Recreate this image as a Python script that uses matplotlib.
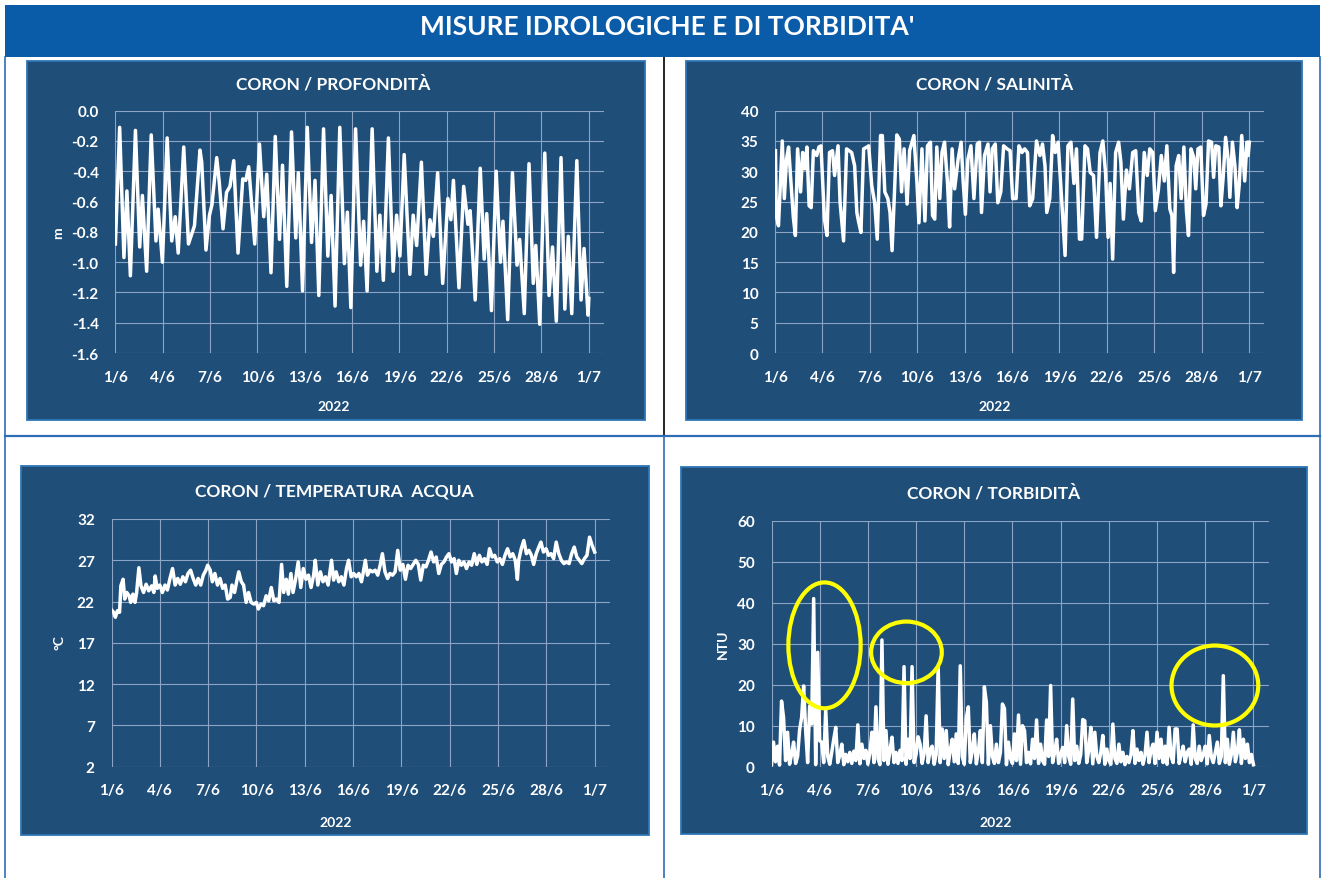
import matplotlib
matplotlib.use("Agg")
import matplotlib.pyplot as plt
from matplotlib.patches import Rectangle, Ellipse
from matplotlib.lines import Line2D

plt.rcParams['font.family'] = ['Lato', 'DejaVu Sans']

W, H = 1325, 879

# ---- data (days since 1/6/2022) ----
day_ticks = [0, 3, 6, 9, 12, 15, 18, 21, 24, 27, 30]
day_labels = ["1/6", "4/6", "7/6", "10/6", "13/6", "16/6", "19/6", "22/6", "25/6", "28/6", "1/7"]

# profondita' (m), read at the turning points of the tide curve
depth_t = [0.00, 0.27, 0.54, 0.73, 0.95, 1.27, 1.54, 1.71, 1.98, 2.27, 2.57, 2.71, 2.98,
           3.28, 3.57, 3.79, 3.98, 4.33, 4.63, 4.82, 5.01, 5.36, 5.47, 5.74, 5.96, 6.12,
           6.42, 6.58, 6.82, 7.04, 7.26, 7.50, 7.77, 8.07, 8.26, 8.45, 8.83, 9.13, 9.40,
           9.59, 9.86, 10.13, 10.40, 10.59, 10.86, 11.16, 11.43, 11.59, 11.86, 12.16,
           12.43, 12.65, 12.89, 13.19, 13.46, 13.67, 13.92, 14.22, 14.51, 14.70, 14.92,
           15.22, 15.54, 15.73, 15.95, 16.27, 16.57, 16.76, 16.98, 17.30, 17.60, 17.82,
           18.03, 18.30, 18.66, 18.87, 19.09, 19.39, 19.69, 19.93, 20.15, 20.42, 20.74,
           21.07, 21.26, 21.42, 21.77, 22.07, 22.34, 22.48, 22.80, 23.12, 23.37, 23.53,
           23.83, 24.13, 24.40, 24.56, 24.86, 25.16, 25.45, 25.62, 25.91, 26.21, 26.48,
           26.64, 26.89, 27.21, 27.48, 27.70, 27.94, 28.24, 28.48, 28.70, 28.92, 29.24,
           29.51, 29.70, 29.95, 30.00]
depth_m = [-0.88, -0.11, -0.97, -0.53, -1.09, -0.13, -0.90, -0.56, -1.06, -0.16, -0.86, -0.65, -1.00,
           -0.18, -0.86, -0.70, -0.94, -0.24, -0.88, -0.82, -0.76, -0.26, -0.34, -0.92, -0.69, -0.62,
           -0.31, -0.47, -0.78, -0.54, -0.50, -0.33, -0.94, -0.45, -0.46, -0.37, -0.88, -0.22, -0.70,
           -0.42, -1.07, -0.17, -0.85, -0.36, -1.16, -0.14, -0.84, -0.41, -1.19, -0.11,
           -0.87, -0.46, -1.22, -0.12, -0.96, -0.56, -1.29, -0.11, -1.01, -0.67, -1.30,
           -0.12, -1.02, -0.73, -1.19, -0.12, -1.06, -0.69, -1.12, -0.18, -1.06, -0.69,
           -0.96, -0.29, -1.08, -0.69, -0.89, -0.34, -1.08, -0.72, -0.83, -0.41, -1.14,
           -0.58, -0.72, -0.46, -1.17, -0.50, -0.75, -0.66, -1.25, -0.38, -0.98, -0.68,
           -1.32, -0.40, -1.00, -0.73, -1.38, -0.41, -1.02, -0.85, -1.34, -0.35, -1.14,
           -0.89, -1.41, -0.28, -1.22, -0.90, -1.39, -0.31, -1.31, -0.83, -1.34, -0.33,
           -1.25, -0.91, -1.35, -1.24]

# salinita'
sal_t = [0.03, 0.08, 0.22, 0.46, 0.59, 0.73, 0.86, 1.02, 1.16, 1.29, 1.43, 1.62, 1.75, 1.89,
         2.02, 2.16, 2.29, 2.43, 2.64, 2.78, 2.91, 3.13, 3.29, 3.45, 3.64, 3.77, 3.99, 4.12,
         4.34, 4.53, 4.85, 5.04, 5.18, 5.28, 5.44, 5.61, 5.82, 5.93, 6.12, 6.31, 6.47, 6.68,
         6.79, 6.95, 7.14, 7.28, 7.41, 7.71, 7.87, 8.01, 8.17, 8.36, 8.52, 8.79, 8.98, 9.11,
         9.30, 9.49, 9.65, 9.84, 9.97, 10.11, 10.24, 10.43, 10.57, 10.73, 10.92, 11.05, 11.21,
         11.37, 11.59, 11.78, 11.91, 12.05, 12.21, 12.40, 12.59, 12.80, 12.94, 13.07, 13.26,
         13.48, 13.61, 13.75, 13.94, 14.10, 14.29, 14.47, 14.69, 14.88, 15.04, 15.26, 15.44,
         15.63, 15.80, 15.98, 16.12, 16.31, 16.55, 16.77, 16.93, 17.09, 17.20, 17.39, 17.57,
         17.74, 17.92, 18.19, 18.36, 18.54, 18.73, 18.92, 19.08, 19.27, 19.41, 19.62, 19.78,
         19.95, 20.16, 20.35, 20.57, 20.75, 20.92, 21.08, 21.21, 21.37, 21.56, 21.75, 21.89,
         22.05, 22.24, 22.43, 22.64, 22.83, 23.02, 23.18, 23.37, 23.56, 23.72, 23.91, 24.07,
         24.26, 24.45, 24.64, 24.80, 24.99, 25.12, 25.23, 25.39, 25.55, 25.71, 25.88, 26.04,
         26.17, 26.33, 26.50, 26.63, 26.77, 26.95, 27.12, 27.28, 27.44, 27.63, 27.76, 27.90,
         28.09, 28.22, 28.36, 28.52, 28.68, 28.79, 28.95, 29.11, 29.25, 29.38, 29.54, 29.73,
         29.87, 29.95, 30.02]
sal_v = [33.4, 22.7, 21.0, 35.0, 25.5, 32.0, 34.0, 27.7, 22.4, 19.4, 33.7, 26.6, 33.1, 30.4,
         34.0, 24.3, 24.0, 33.4, 32.6, 34.0, 34.2, 22.1, 19.4, 33.1, 33.4, 29.3, 34.2, 24.8,
         18.5, 33.7, 33.1, 30.9, 23.2, 21.8, 19.9, 33.7, 34.0, 34.2, 27.7, 24.8, 18.8, 35.9,
         35.9, 26.6, 25.5, 23.2, 16.9, 36.0, 35.3, 26.6, 33.7, 24.6, 33.4, 35.9, 28.3, 21.5,
         33.7, 21.8, 34.2, 34.8, 22.7, 22.1, 34.0, 25.5, 33.1, 34.8, 28.0, 20.8, 33.7,
         27.1, 32.0, 34.8, 28.3, 22.9, 32.0, 34.2, 25.5, 34.5, 34.8, 23.2, 32.6,
         34.5, 26.6, 33.7, 34.5, 24.8, 26.6, 34.2, 33.7, 33.4, 25.5, 25.5, 34.2,
         33.1, 33.7, 33.1, 24.3, 25.5, 35.0, 32.6, 34.5, 30.9, 23.2, 25.5, 35.9,
         33.1, 34.8, 23.2, 16.1, 34.2, 34.8, 28.0, 33.7, 18.8, 18.8, 34.2, 33.7,
         29.8, 29.3, 19.1, 33.1, 35.0, 29.8, 19.1, 28.0, 15.5, 33.1, 34.8, 31.5,
         22.1, 30.2, 27.1, 33.1, 33.4, 23.2, 21.8, 33.1, 29.3, 33.7, 33.1, 23.5,
         26.8, 32.6, 28.4, 34.2, 23.8, 22.7, 13.3, 30.9, 32.6, 25.5, 34.0, 23.5,
         19.4, 33.7, 32.3, 27.1, 33.7, 34.0, 22.7, 24.6, 35.0, 34.8, 29.0, 34.2,
         34.0, 24.3, 28.8, 35.6, 32.0, 25.7, 34.8, 30.9, 24.0, 27.7, 35.9, 28.4,
         34.8, 32.6, 34.8]

# temperatura acqua (degC)
temp_t = [0.00, 0.13, 0.24, 0.37, 0.50, 0.58, 0.72, 0.82, 0.95, 1.09, 1.19, 1.33, 1.46, 1.56,
          1.70, 1.83, 1.99, 2.15, 2.31, 2.49, 2.63, 2.71, 2.84, 3.00, 3.16, 3.32, 3.47, 3.63,
          3.79, 3.95, 4.11, 4.27, 4.43, 4.59, 4.75, 4.91, 5.07, 5.23, 5.38, 5.54, 5.70, 5.86,
          5.97, 6.13, 6.26, 6.42, 6.58, 6.74, 6.90, 7.06, 7.21, 7.37, 7.48, 7.64, 7.77, 7.90,
          8.06, 8.20, 8.36, 8.51, 8.67, 8.83, 8.99, 9.12, 9.28, 9.44, 9.60, 9.76, 9.92, 10.08,
          10.24, 10.40, 10.56, 10.69, 10.85, 10.98, 11.14, 11.27, 11.43, 11.59, 11.75, 11.91,
          12.07, 12.23, 12.39, 12.55, 12.65, 12.81, 12.97, 13.13, 13.29, 13.45, 13.66, 13.79,
          13.95, 14.11, 14.27, 14.43, 14.59, 14.72, 14.88, 15.04, 15.20, 15.36, 15.52, 15.62,
          15.76, 15.89, 16.05, 16.21, 16.37, 16.53, 16.68, 16.82, 16.98, 17.14, 17.29, 17.45,
          17.61, 17.77, 17.93, 18.09, 18.25, 18.41, 18.57, 18.73, 18.89, 19.05, 19.20, 19.36,
          19.52, 19.68, 19.84, 20.00, 20.16, 20.32, 20.48, 20.64, 20.80, 20.95, 21.11, 21.27,
          21.41, 21.56, 21.72, 21.88, 22.04, 22.20, 22.36, 22.52, 22.68, 22.84, 23.00, 23.16,
          23.32, 23.47, 23.63, 23.79, 23.95, 24.11, 24.27, 24.43, 24.59, 24.75, 24.91, 25.07,
          25.20, 25.28, 25.44, 25.60, 25.76, 25.92, 26.07, 26.21, 26.37, 26.53, 26.66, 26.82,
          26.98, 27.14, 27.29, 27.45, 27.61, 27.77, 27.93, 28.09, 28.25, 28.41, 28.57, 28.73,
          28.89, 29.05, 29.20, 29.36, 29.52, 29.68, 29.84, 30.00]
temp_c = [21.0, 20.7, 20.1, 20.9, 20.7, 23.9, 24.7, 22.3, 23.1, 22.7, 21.9, 22.9, 21.9, 23.1,
          26.1, 23.9, 23.1, 24.1, 23.3, 23.9, 23.1, 25.1, 23.6, 24.0, 23.1, 24.0, 23.4, 24.8,
          26.0, 24.0, 24.8, 24.1, 25.0, 24.4, 25.4, 25.8, 24.8, 24.0, 24.8, 24.0, 25.2, 25.8,
          26.4, 25.8, 24.4, 25.4, 24.0, 24.8, 23.6, 24.0, 22.3, 22.5, 24.0, 23.1, 24.4, 25.6,
          24.4, 24.0, 21.9, 23.1, 21.9, 21.7, 21.9, 21.1, 21.7, 21.5, 22.7, 22.1, 23.7, 22.1,
          22.3, 21.9, 26.5, 23.1, 24.7, 22.9, 25.4, 23.1, 24.7, 26.8, 23.7, 26.0,
          24.7, 25.2, 23.7, 25.2, 27.0, 24.0, 25.6, 24.4, 25.0, 24.0, 27.0, 24.6,
          25.6, 24.4, 25.0, 24.0, 26.0, 27.0, 25.0, 25.4, 25.0, 25.4, 24.4, 25.4,
          27.0, 25.2, 25.8, 25.6, 25.8, 25.2, 26.4, 27.8, 25.6, 24.8, 25.4, 25.2,
          25.6, 28.2, 25.8, 26.5, 24.7, 26.4, 26.0, 26.5, 27.0, 26.5, 24.6, 26.4,
          26.2, 27.0, 28.0, 26.8, 27.4, 25.4, 26.5, 26.8, 27.4, 27.8, 26.8, 27.2,
          25.4, 27.0, 26.4, 26.8, 26.0, 26.8, 26.4, 27.8, 26.5, 27.6, 26.8, 27.2,
          26.5, 28.4, 27.4, 27.6, 26.8, 27.2, 26.5, 27.6, 28.4, 27.4, 27.8, 27.0,
          24.7, 27.0, 28.4, 29.4, 27.8, 28.2, 27.6, 26.5, 27.8, 28.6, 29.2, 28.0,
          28.4, 27.6, 27.8, 27.2, 29.2, 27.8, 27.0, 26.6, 26.8, 26.6, 27.8, 28.6,
          27.4, 27.0, 26.6, 27.2, 27.6, 29.8, 28.8, 28.0]

# torbidita' (NTU), one reading every 3 hours, one row per day
turb_ntu = [
    0.5, 6.0, 1.2, 5.0, 0.4, 16.0, 12.0, 1.5,
    8.4, 0.6, 3.0, 6.0, 0.8, 2.5, 9.0, 12.0,
    19.7, 9.0, 1.0, 14.8, 10.4, 41.0, 0.5, 27.9,
    6.3, 6.0, 1.0, 14.0, 2.5, 0.6, 3.5, 6.7,
    9.6, 1.0, 2.8, 5.5, 0.5, 3.0, 1.2, 3.5,
    0.8, 3.8, 1.5, 10.2, 0.7, 5.5, 2.0, 4.0,
    0.6, 3.5, 8.4, 1.0, 14.6, 2.0, 0.5, 30.9,
    1.5, 8.8, 0.6, 4.0, 7.2, 1.0, 3.5, 0.8,
    4.0, 1.5, 24.4, 0.6, 6.7, 2.0, 24.4, 1.0,
    3.0, 7.3, 5.5, 0.8, 3.2, 12.4, 1.0, 4.0,
    5.0, 0.6, 3.0, 24.6, 1.0, 9.2, 2.0, 8.8,
    0.5, 4.0, 6.7, 1.2, 8.0, 0.8, 24.6, 2.5,
    0.6, 11.8, 14.6, 1.0, 4.0, 8.0, 0.7, 3.5,
    8.8, 1.0, 19.5, 15.7, 0.6, 10.0, 2.5, 0.8,
    5.5, 1.0, 3.5, 15.3, 14.2, 0.5, 6.0, 2.0,
    0.8, 8.0, 1.5, 12.6, 0.6, 10.0, 8.8, 1.0,
    3.5, 0.7, 6.7, 2.0, 11.4, 0.8, 5.5, 1.5,
    0.6, 11.4, 2.5, 19.8, 1.0, 3.5, 6.7, 0.8,
    3.0, 4.7, 1.0, 10.0, 2.5, 0.6, 16.5, 1.5,
    5.0, 0.8, 3.0, 11.5, 11.2, 1.0, 4.0, 9.6,
    0.7, 8.4, 2.5, 1.0, 3.5, 7.6, 0.6, 4.3,
    1.5, 0.6, 10.4, 2.0, 0.8, 5.5, 1.2, 3.5,
    0.5, 2.5, 1.0, 3.0, 8.8, 0.8, 4.3, 1.5,
    3.5, 0.6, 2.8, 8.4, 1.0, 4.0, 5.5, 0.8,
    8.4, 2.0, 6.7, 1.0, 5.0, 0.6, 9.6, 2.5,
    1.0, 9.2, 9.2, 0.8, 3.0, 5.0, 1.2, 3.5,
    4.3, 0.6, 10.2, 2.0, 0.8, 5.0, 1.5, 3.0,
    5.0, 0.7, 7.6, 2.5, 1.0, 3.5, 6.0, 0.8,
    2.5, 22.2, 1.0, 6.7, 0.6, 3.0, 8.4, 1.2,
    3.5, 9.0, 0.8, 6.7, 2.0, 5.5, 1.0, 3.0,
    0.5,
]
turb_t = [i / 8 for i in range(len(turb_ntu))]

# highlighted events on the turbidity chart: (day, NTU, width days, height NTU)
highlights = [(3.3, 29.6, 4.5, 30.7), (8.4, 27.9, 4.4, 15.0), (27.6, 19.8, 5.4, 19.5)]

# ---- figure ----
PANEL = '#1F4E79'
EDGE = '#2E75B6'
GRID = '#8DA5C4'

fig = plt.figure(figsize=(W / 100, H / 100), dpi=100)
fig.patch.set_facecolor('white')


def fx(px):
    return px / W


def fy(py):
    return 1 - py / H


# banner
fig.patches.append(Rectangle((fx(5), fy(58)), fx(1315), 52 / H, transform=fig.transFigure,
                             facecolor='#0B5CA8', edgecolor='none', zorder=-2))
fig.text(fx(667), fy(27), "MISURE IDROLOGICHE E DI TORBIDITA'", color='white',
         fontsize=19, fontweight='bold', ha='center', va='center')

# frame lines
blue_line = '#2F6DB5'
for x0, y0, x1, y1, c, lw in [(5, 58, 5, 879, blue_line, 1.2),
                              (1320, 58, 1320, 879, blue_line, 1.2),
                              (664, 58, 664, 437, 'black', 1.2),
                              (664, 437, 664, 879, blue_line, 1.2),
                              (5, 437, 1320, 437, blue_line, 1.6)]:
    fig.add_artist(Line2D([fx(x0), fx(x1)], [fy(y0), fy(y1)], color=c, lw=lw,
                          transform=fig.transFigure, zorder=-2))

panels = [
    dict(box=(27, 62, 645, 421), ax=(115.4, 111.7, 603.8, 354), title="CORON / PROFONDITÀ",
         tc=(333, 84), yl="m", ylc=(58, 233), xl=(334, 407),
         ylim=(-1.6, 0.0), yticks=[-1.6, -1.4, -1.2, -1.0, -0.8, -0.6, -0.4, -0.2, 0.0], fmt='{:.1f}',
         x=depth_t, y=depth_m),
    dict(box=(686, 62, 1302, 421), ax=(775, 111.7, 1264, 354), title="CORON / SALINITÀ",
         tc=(995, 84), yl=None, ylc=None, xl=(995, 407),
         ylim=(0, 40), yticks=[0, 5, 10, 15, 20, 25, 30, 35, 40], fmt='{:d}',
         x=sal_t, y=sal_v),
    dict(box=(21, 467, 649, 836), ax=(111.5, 520, 610, 767.7), title="CORON / TEMPERATURA  ACQUA",
         tc=(334, 492), yl="°C", ylc=(60, 643), xl=(336, 823),
         ylim=(2, 32), yticks=[2, 7, 12, 17, 22, 27, 32], fmt='{:d}',
         x=temp_t, y=temp_c),
    dict(box=(681, 468, 1307, 835), ax=(771.5, 521.7, 1268.7, 767.7), title="CORON / TORBIDITÀ",
         tc=(994, 493), yl="NTU", ylc=(723, 644), xl=(996, 823),
         ylim=(0, 60), yticks=[0, 10, 20, 30, 40, 50, 60], fmt='{:d}',
         x=turb_t, y=turb_ntu),
]

axes = []
for p in panels:
    bx0, by0, bx1, by1 = p['box']
    fig.patches.append(Rectangle((fx(bx0), fy(by1)), (bx1 - bx0) / W, (by1 - by0) / H,
                                 transform=fig.transFigure, facecolor=PANEL, edgecolor=EDGE,
                                 lw=1.3, zorder=-1))
    ax0, ay0, ax1, ay1 = p['ax']
    ax = fig.add_axes([fx(ax0), fy(ay1), (ax1 - ax0) / W, (ay1 - ay0) / H])
    ax.set_facecolor(PANEL)
    ax.plot(p['x'], p['y'], color='white', lw=2.5, solid_joinstyle='round', zorder=3)
    ax.set_xlim(0, 30.95)
    ax.set_ylim(*p['ylim'])
    ax.set_xticks(day_ticks)
    ax.set_xticklabels(day_labels)
    ax.set_yticks(p['yticks'])
    ax.set_yticklabels([p['fmt'].format(v) for v in p['yticks']])
    ax.grid(True, color=GRID, lw=0.8)
    ax.set_axisbelow(True)
    for s in ax.spines.values():
        s.set_visible(False)
    ax.tick_params(length=0, colors='white', labelsize=11, pad=12)
    for lab in ax.get_xticklabels() + ax.get_yticklabels():
        lab.set_fontweight('bold')
    fig.text(fx(p['tc'][0]), fy(p['tc'][1]), p['title'], color='white', fontsize=12.5,
             fontweight='bold', ha='center', va='center')
    fig.text(fx(p['xl'][0]), fy(p['xl'][1]), "2022", color='white', fontsize=10,
             fontweight='bold', ha='center', va='center')
    if p['yl']:
        fig.text(fx(p['ylc'][0]), fy(p['ylc'][1]), p['yl'], color='white', fontsize=10,
                 fontweight='bold', ha='center', va='center', rotation=90)
    axes.append(ax)

# yellow circles on the turbidity chart
for cx, cy, ew, eh in highlights:
    axes[3].add_patch(Ellipse((cx, cy), ew, eh, fill=False, edgecolor='#FFFF00', lw=3,
                              zorder=5, clip_on=False))

fig.savefig('out.png', dpi=100)
